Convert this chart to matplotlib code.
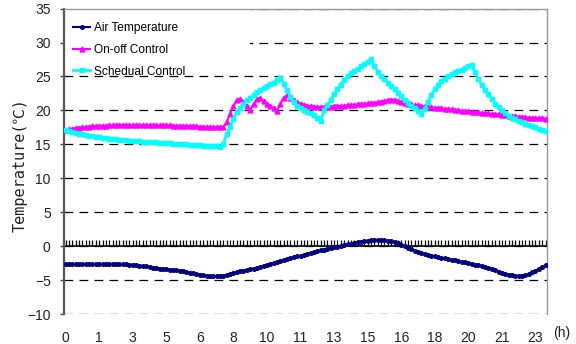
import numpy as np
import matplotlib
matplotlib.use("Agg")
import matplotlib.pyplot as plt
from matplotlib.patches import Rectangle

# 10-minute readings over one day (144 points)
air_temp = [
    -2.65, -2.65, -2.65, -2.65, -2.65, -2.65,
    -2.65, -2.65, -2.65, -2.65, -2.65, -2.65,
    -2.65, -2.65, -2.65, -2.65, -2.65, -2.65,
    -2.65, -2.7, -2.75, -2.8, -2.85, -2.9,
    -2.95, -3.05, -3.15, -3.2, -3.3, -3.35,
    -3.4, -3.45, -3.5, -3.55, -3.6, -3.7,
    -3.8, -3.9, -4.0, -4.1, -4.2, -4.3,
    -4.35, -4.4, -4.4, -4.4, -4.4, -4.35,
    -4.25, -4.1, -3.95, -3.8, -3.7, -3.6,
    -3.5, -3.4, -3.3, -3.15, -3.0, -2.85,
    -2.75, -2.6, -2.45, -2.3, -2.15, -2.0,
    -1.9, -1.75, -1.6, -1.5, -1.4, -1.3,
    -1.15, -1.0, -0.9, -0.75, -0.6, -0.5,
    -0.4, -0.3, -0.15, -0.05, 0.05, 0.15,
    0.25, 0.35, 0.45, 0.55, 0.65, 0.75,
    0.8, 0.85, 0.9, 0.9, 0.9, 0.85,
    0.8, 0.7, 0.55, 0.4, 0.2, 0.0,
    -0.2, -0.45, -0.65, -0.85, -1.0, -1.15,
    -1.3, -1.4, -1.5, -1.6, -1.7, -1.8,
    -1.9, -2.0, -2.1, -2.2, -2.3, -2.4,
    -2.5, -2.6, -2.7, -2.8, -2.9, -3.0,
    -3.2, -3.35, -3.55, -3.75, -3.95, -4.1,
    -4.2, -4.3, -4.35, -4.35, -4.35, -4.3,
    -4.1, -3.85, -3.6, -3.35, -3.05, -2.8,
]

onoff = [
    17.1, 17.2, 17.3, 17.4, 17.45, 17.5,
    17.55, 17.6, 17.65, 17.7, 17.7, 17.75,
    17.75, 17.8, 17.8, 17.8, 17.85, 17.85,
    17.85, 17.85, 17.85, 17.85, 17.85, 17.85,
    17.85, 17.85, 17.85, 17.8, 17.8, 17.8,
    17.8, 17.8, 17.75, 17.75, 17.75, 17.7,
    17.7, 17.7, 17.65, 17.65, 17.6, 17.6,
    17.6, 17.55, 17.55, 17.55, 17.55, 17.55,
    18.3, 19.5, 20.6, 21.5, 21.7, 21.2,
    20.6, 20.1, 20.9, 21.7, 21.8, 21.4,
    21.0, 20.6, 20.3, 19.95, 21.0, 21.9,
    22.2, 21.9, 21.5, 21.2, 21.0, 20.85,
    20.7, 20.6, 20.55, 20.5, 20.5, 20.5,
    20.5, 20.55, 20.6, 20.6, 20.65, 20.7,
    20.75, 20.8, 20.85, 20.9, 20.95, 21.0,
    21.05, 21.1, 21.15, 21.2, 21.3, 21.4,
    21.5, 21.6, 21.55, 21.4, 21.25, 21.1,
    21.0, 20.9, 20.8, 20.75, 20.65, 20.6,
    20.5, 20.45, 20.4, 20.35, 20.3, 20.25,
    20.2, 20.15, 20.1, 20.0, 19.95, 19.9,
    19.85, 19.8, 19.75, 19.7, 19.65, 19.6,
    19.55, 19.5, 19.45, 19.4, 19.35, 19.3,
    19.25, 19.2, 19.15, 19.1, 19.05, 19.0,
    18.95, 18.9, 18.9, 18.85, 18.85, 18.8,
]

schedule = [
    17.1, 16.95, 16.8, 16.7, 16.6, 16.5,
    16.4, 16.3, 16.2, 16.1, 16.05, 15.95,
    15.9, 15.85, 15.8, 15.75, 15.7, 15.65,
    15.6, 15.55, 15.5, 15.5, 15.45, 15.4,
    15.4, 15.35, 15.3, 15.3, 15.25, 15.2,
    15.2, 15.15, 15.1, 15.1, 15.05, 15.0,
    15.0, 14.95, 14.9, 14.9, 14.85, 14.8,
    14.8, 14.75, 14.7, 14.7, 14.65, 15.1,
    16.5, 17.6, 18.8, 19.7, 20.3, 20.9,
    21.5, 21.9, 22.3, 22.7, 23.0, 23.3,
    23.6, 23.85, 24.1, 24.45, 24.85, 23.9,
    23.0, 22.0, 21.2, 20.7, 20.3, 20.0,
    19.8, 19.6, 19.3, 18.9, 18.45, 20.0,
    20.8, 21.6, 22.4, 23.1, 23.8, 24.5,
    25.0, 25.5, 25.8, 26.1, 26.5, 26.8,
    27.2, 27.6, 26.6, 25.7, 25.0, 24.6,
    24.1, 23.6, 23.1, 22.6, 22.1, 21.6,
    21.1, 20.7, 20.3, 19.9, 19.45, 20.2,
    21.3, 22.3, 23.1, 23.8, 24.3, 24.7,
    25.0, 25.3, 25.6, 25.8, 26.0, 26.2,
    26.5, 26.7, 25.6, 24.6, 23.8, 23.0,
    22.35, 21.7, 21.0, 20.5, 20.0, 19.6,
    19.25, 18.95, 18.7, 18.45, 18.25, 18.05,
    17.85, 17.65, 17.5, 17.3, 17.15, 17.0,
]

hour_labels = ['0', '1', '3', '5', '6', '8', '10', '11', '13', '15',
               '16', '18', '20', '21', '23']

plt.rcParams['font.family'] = ['Liberation Sans', 'DejaVu Sans']

idx = np.arange(len(air_temp))

fig = plt.figure(figsize=(5.76, 3.44), dpi=100)
ax = fig.add_axes([0.111, 0.087, 0.839, 0.888])

ax.plot(idx, air_temp, color='#000080', lw=1.5, marker='o', ms=2.6,
        label='Air Temperature', zorder=3)
ax.plot(idx, onoff, color='#ff00ff', lw=1.5, marker='^', ms=3.5,
        label='On-off Control', zorder=4)
ax.plot(idx, schedule, color='#00ffff', lw=2, marker='s', ms=3.4,
        label='Schedual Control', zorder=5)

ax.set_xlim(-0.5, len(idx) - 0.5)
ax.set_ylim(-10, 35)
ax.set_yticks(np.arange(-10, 36, 5))
ax.yaxis.grid(True, color='black', lw=0.9, ls=(0, (7, 5)))
ax.set_axisbelow(True)

ax.set_xticks(idx[::10], hour_labels)
ax.tick_params(axis='x', length=0, pad=12, labelsize=10, labelcolor='#222222')
ax.tick_params(axis='y', length=3, width=1, direction='out', pad=6.5,
               labelsize=10, labelcolor='#222222', color='#444444')

ax.spines['bottom'].set_visible(False)
ax.spines['left'].set_color('#555555')
ax.spines['left'].set_linewidth(1.6)
for side in ('top', 'right'):
    ax.spines[side].set_color('#999999')
    ax.spines[side].set_linewidth(1)

# category axis crossing at 0 with a tick for every reading
zero_axis = ax.secondary_xaxis(10 / 45)
zero_axis.set_xticks(idx, labels=[])
zero_axis.tick_params(direction='in', length=4, width=0.9, color='black')
zero_axis.spines['bottom'].set_color('black')
zero_axis.spines['bottom'].set_linewidth(1.2)

# white legend area hiding the grid behind it
ax.add_patch(Rectangle((0, 0.786), 0.385, 0.214, transform=ax.transAxes,
                       facecolor='white', edgecolor='none', zorder=1.5))

ax.legend(loc='upper left', bbox_to_anchor=(0.019, 0.956), fontsize=8.6,
          frameon=False, handlelength=1.45, handletextpad=0.3,
          labelspacing=0.82, borderpad=0.0, borderaxespad=0.0)

fig.text(0.035, 0.52, 'Temperature(℃)', rotation=90, ha='center',
         va='center', fontsize=11, color='#222222',
         family=['DejaVu Sans Mono', 'Noto Sans CJK KR'])
fig.text(0.975, 0.032, '(h)', ha='center', va='center', fontsize=10,
         color='#222222')

fig.savefig('out.png', dpi=100)
